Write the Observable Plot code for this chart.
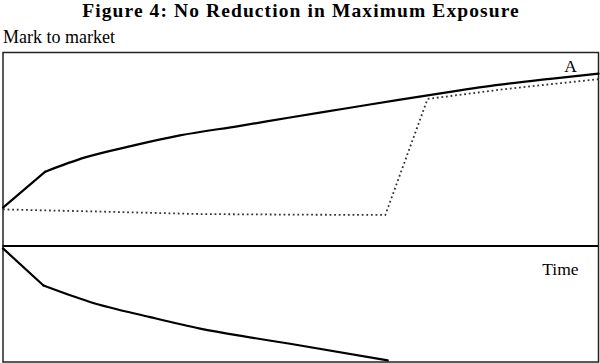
<!DOCTYPE html>
<html>
<head>
<meta charset="utf-8">
<script src="https://cdn.jsdelivr.net/npm/d3@7"></script>
<script src="https://cdn.jsdelivr.net/npm/@observablehq/plot@0.6"></script>
<style>
  html, body { margin: 0; padding: 0; background: #fff; width: 600px; height: 363px; overflow: hidden; }
  #title { font-family: "Liberation Serif", "Times New Roman", serif; font-weight: bold; font-size: 19.5px; letter-spacing: 1.1px; line-height: 22px; height: 26px; text-align: center; color: #000; padding-left: 2px; box-sizing: border-box; }
  #ylabel { font-family: "Liberation Serif", "Times New Roman", serif; font-size: 18px; line-height: 17px; height: 24px; box-sizing: border-box; padding-top: 2.7px; padding-left: 3px; color: #000; }
  #chart svg { display: block; }
</style>
</head>
<body>
<div id="title">Figure 4: No Reduction in Maximum Exposure</div>
<div id="ylabel">Mark to market</div>
<div id="chart"></div>
<script>
// Series A: mark to market (solid, upper)
const timeA  = [0, 0.71, 1.38, 2.18, 2.97, 3.98, 4.82, 5.75, 6.67, 7.51, 8.35, 9.19, 10];
const valueA = [12.4, 24.0, 28.6, 32.4, 35.7, 38.8, 41.5, 44.4, 47.3, 49.8, 52.1, 54.0, 55.7];
// Series B: dotted exposure path
const timeB  = [0, 1.63, 3.31, 4.99, 6.42, 7.13, 8.35, 10];
const valueB = [11.8, 11.1, 10.3, 10.1, 10.0, 47.5, 50.5, 53.9];
// Series C: solid, lower (negative side)
const timeC  = [0, 0.68, 1.46, 2.47, 3.31, 4.07, 4.82, 6.46];
const valueC = [-0.8, -12.8, -18.1, -23.0, -26.7, -29.3, -31.6, -37.0];
// Labels
const labelText = ["A", "Time"];
const labelTime = [9.53, 9.36];
const labelValue = [58.1, -7.6];

const A = timeA.map((t, i) => ({t, v: valueA[i]}));
const B = timeB.map((t, i) => ({t, v: valueB[i]}));
const C = timeC.map((t, i) => ({t, v: valueC[i]}));
const labels = labelText.map((s, i) => ({s, t: labelTime[i], v: labelValue[i]}));

const serif = "Liberation Serif, Times New Roman, serif";
const solid = {x: "t", y: "v", stroke: "#000", strokeWidth: 2.2};

const chart = Plot.plot({
  width: 600,
  height: 313,
  marginTop: 2,
  marginBottom: 1.5,
  marginLeft: 2.5,
  marginRight: 2,
  x: {domain: [0, 10], axis: null},
  y: {domain: [-37.5, 62.5], axis: null},
  style: {background: "#fff", fontFamily: serif},
  marks: [
    Plot.frame({stroke: "#222", strokeWidth: 1.5}),
    Plot.ruleY([0], {stroke: "#000", strokeWidth: 2}),
    Plot.line(B, {x: "t", y: "v", stroke: "#333", strokeWidth: 1.8, strokeDasharray: "1.8,2.8", strokeLinecap: "butt"}),
    Plot.line(A.slice(0, 2), solid),
    Plot.line(A.slice(1), {...solid, curve: "monotone-x"}),
    Plot.line(C.slice(0, 2), solid),
    Plot.line(C.slice(1), {...solid, curve: "monotone-x"}),
    Plot.text(labels, {x: "t", y: "v", text: "s", fontSize: 17.5, fontFamily: serif, fill: "#000", lineAnchor: "middle"})
  ]
});
document.getElementById("chart").appendChild(chart);
</script>
</body>
</html>
